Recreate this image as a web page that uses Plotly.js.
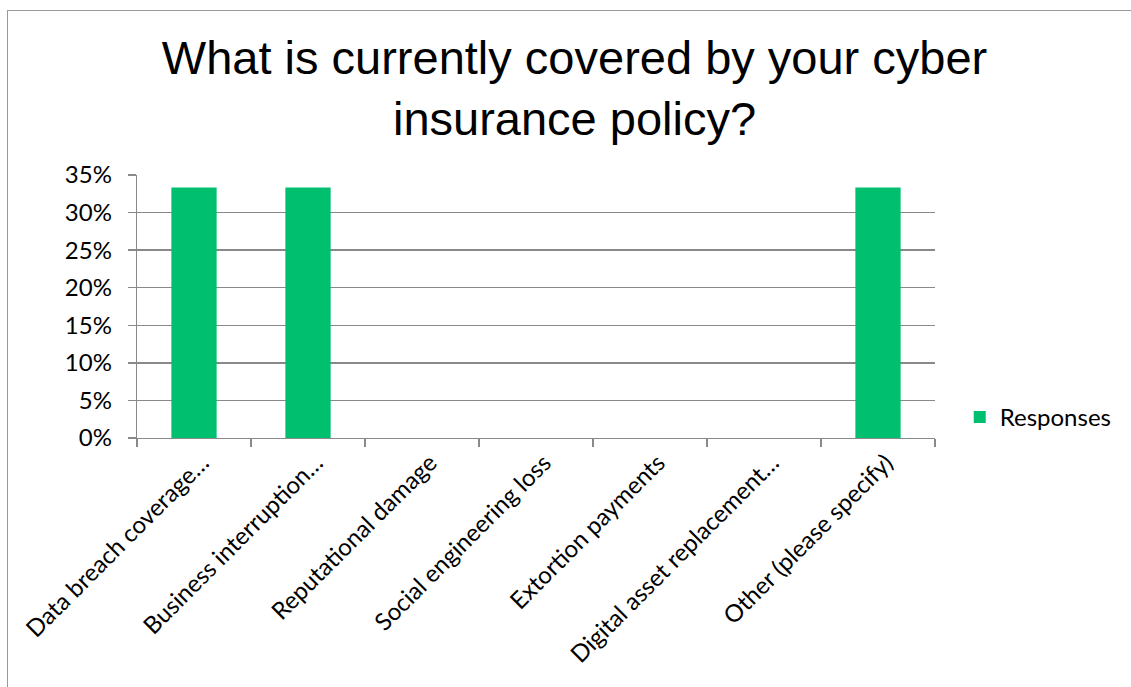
<!DOCTYPE html>
<html>
<head>
<meta charset="utf-8">
<script src="https://cdn.plot.ly/plotly-3.0.1.min.js"></script>
<style>
html,body{margin:0;padding:0;background:#fff;overflow:hidden;}
#chart{position:absolute;left:0;top:0;width:1131px;height:687px;}
#frame{position:absolute;left:7px;top:10px;width:1200px;height:800px;border-left:1.5px solid #999;border-top:1.5px solid #999;pointer-events:none;}
</style>
</head>
<body>
<div id="chart"></div>
<div id="frame"></div>
<script>
var categories = [
  "Data breach coverage…",
  "Business interruption…",
  "Reputational damage",
  "Social engineering loss",
  "Extortion payments",
  "Digital asset replacement…",
  "Other (please specify)"
];
var responses = [0.3333, 0.3333, 0, 0, 0, 0, 0.3333];
var yTickValues = [0, 0.05, 0.10, 0.15, 0.20, 0.25, 0.30, 0.35];
var yTickLabels = ["0%", "5%", "10%", "15%", "20%", "25%", "30%", "35%"];
var chartTitle = "What is currently covered by your cyber<br>insurance policy?";
var seriesName = "Responses";

var labelFont = {family: "Lato, 'Open Sans', sans-serif", size: 24, color: "#000"};

var trace = {
  type: "bar",
  x: categories,
  y: responses,
  name: seriesName,
  marker: {color: "#00BF6F"},
  showlegend: true,
  hoverinfo: "x+y"
};

var layout = {
  width: 1131,
  height: 687,
  margin: {l: 137, r: 195.5, t: 174.5, b: 248.5, pad: 0},
  paper_bgcolor: "rgba(0,0,0,0)",
  plot_bgcolor: "rgba(0,0,0,0)",
  bargap: 0.603,
  title: {
    text: chartTitle,
    font: {family: "'Liberation Sans', Arial, sans-serif", size: 47, color: "#000"},
    xref: "container", x: 0.508, xanchor: "center",
    yref: "container", y: 1 - 74/687, yanchor: "top"
  },
  xaxis: {
    type: "category",
    tickangle: -45,
    tickfont: labelFont,
    ticklabelshift: 8,
    showline: true, linecolor: "#898989", linewidth: 1.3,
    ticks: "outside", tickson: "boundaries", ticklen: 8, tickcolor: "#898989", tickwidth: 1.3,
    showgrid: false,
    automargin: false
  },
  yaxis: {
    range: [0, 0.35],
    tickvals: yTickValues,
    ticktext: yTickLabels,
    tickfont: labelFont,
    ticklabelstandoff: 11,
    showline: true, linecolor: "#898989", linewidth: 1.3,
    ticks: "outside", ticklen: 8, tickcolor: "#898989", tickwidth: 1.3,
    showgrid: true, gridcolor: "#898989", gridwidth: 1.3,
    zeroline: false,
    automargin: false
  },
  legend: {
    x: 1.031, xanchor: "left",
    y: 0.078, yanchor: "middle",
    font: labelFont,
    bgcolor: "rgba(0,0,0,0)"
  }
};

Plotly.newPlot("chart", [trace], layout, {staticPlot: true, displayModeBar: false});
</script>
</body>
</html>
